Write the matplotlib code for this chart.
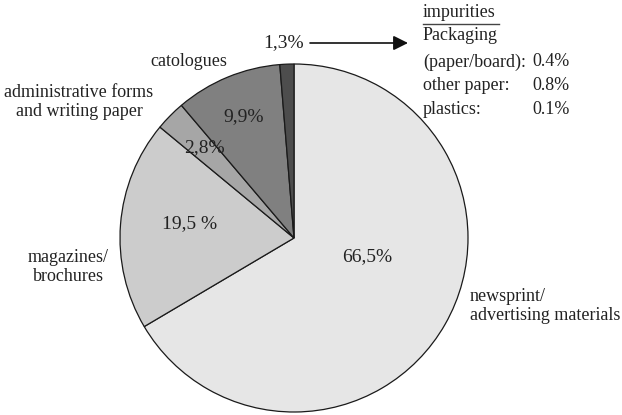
import matplotlib.pyplot as plt

plt.rcParams['font.family'] = ['Liberation Serif', 'DejaVu Serif']

# composition of the waste paper fraction (%)
categories = ['newsprint/\nadvertising materials', 'magazines/\nbrochures',
              'administrative forms\nand writing paper', 'catologues', 'impurities']
shares = [66.5, 19.5, 2.8, 9.9, 1.3]
pct_sep = ['', ' ', '', '', '']
colors = ['#e6e6e6', '#cccccc', '#a6a6a6', '#808080', '#4d4d4d']

# breakdown of the impurities
imp_items = ['(paper/board):', 'other paper:', 'plastics:']
imp_shares = [0.4, 0.8, 0.1]

W, H = 622, 415
fig = plt.figure(figsize=(W / 100, H / 100), dpi=100)
ax = fig.add_axes([0, 0, 1, 1])
ax.set_xlim(0, W)
ax.set_ylim(0, H)
ax.axis('off')


def Y(y):
    # pixel rows are counted from the top
    return H - y


ax.pie(shares, colors=colors, startangle=90, counterclock=False,
       center=(294, Y(238)), radius=174, frame=True,
       wedgeprops=dict(edgecolor='#1a1a1a', linewidth=0.9))
ax.set_xlim(0, W)
ax.set_ylim(0, H)
ax.set_aspect('auto')
ax.axis('off')


def pct(v, sep=''):
    return f"{v:.1f}".replace('.', ',') + sep + '%'


# percentages inside / next to the slices
pct_pos = [(367, 257), (190, 224), (204, 148), (244, 117), (284, 43)]
for v, s, (x, y) in zip(shares, pct_sep, pct_pos):
    ax.text(x, Y(y), pct(v, s), fontsize=14, ha='center', va='center', color='#222222')

# category names
ax.text(470, Y(306), categories[0], fontsize=13, ha='left', va='center',
        linespacing=1.15, color='#222222')
ax.text(68, Y(267), categories[1], fontsize=13, ha='center', va='center',
        linespacing=1.15, color='#222222')
ax.text(79, Y(102), categories[2], fontsize=13, ha='center', va='center',
        linespacing=1.15, color='#222222')
ax.text(189, Y(62), categories[3], fontsize=13, ha='center', va='center', color='#222222')

# arrow to the impurities box
ax.annotate('', xy=(408, Y(43)), xytext=(310, Y(43)),
            arrowprops=dict(arrowstyle='-|>', color='#111111', lw=1.2,
                            mutation_scale=22, shrinkA=0, shrinkB=0))

ax.text(423, Y(13), categories[4], fontsize=13, ha='left', va='center', color='#222222')
ax.plot([423, 499], [Y(24), Y(24)], color='#444444', lw=1)
ax.text(423, Y(35), 'Packaging', fontsize=13, ha='left', va='center', color='#222222')
for i, (name, v) in enumerate(zip(imp_items, imp_shares)):
    y = 62 + i * 24
    ax.text(423, Y(y), name, fontsize=13, ha='left', va='center', color='#222222')
    ax.text(532, Y(y), f"{v:.1f}%", fontsize=13, ha='left', va='center', color='#222222')

fig.savefig('out.png', dpi=100)
